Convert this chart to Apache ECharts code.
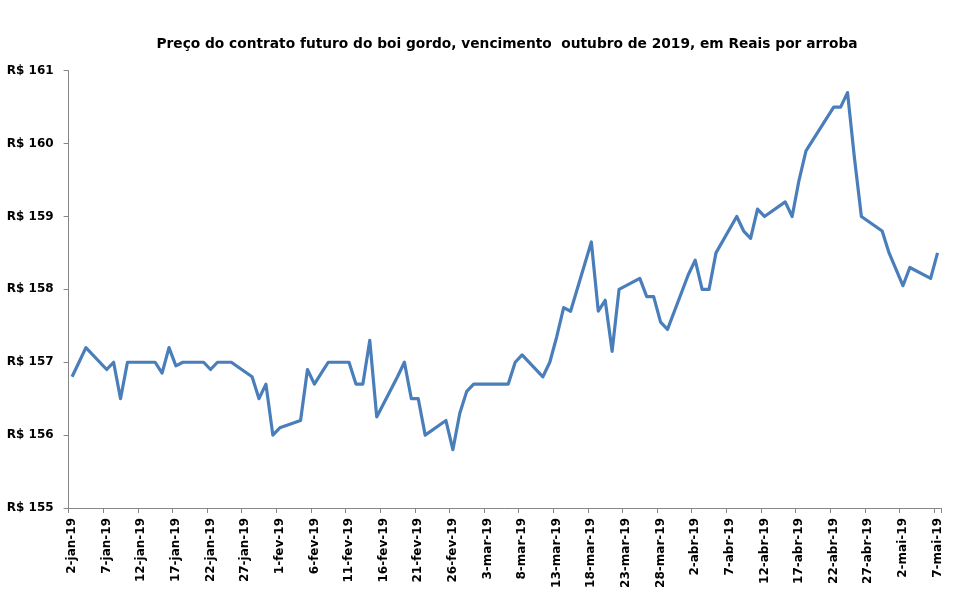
<!DOCTYPE html>
<html>
<head>
<meta charset="utf-8">
<script src="https://cdn.jsdelivr.net/npm/echarts@6/dist/echarts.min.js"></script>
<style>
html,body{margin:0;padding:0;background:#fff;}
#chart{width:961px;height:594px;}
</style>
</head>
<body>
<div id="chart"></div>
<script>
// Axis scaffolding: calendar days from 2-jan-19 to 7-mai-19
var monthAbbr = ['jan','fev','mar','abr','mai'];
var startDate = [2019, 0, 2];
var endDate = [2019, 4, 7];

// Trading days shown in the chart and their prices (R$ per arroba)
var tradeDates = [
  '2-jan-19','3-jan-19','4-jan-19','7-jan-19','8-jan-19','9-jan-19','10-jan-19','11-jan-19',
  '14-jan-19','15-jan-19','16-jan-19','17-jan-19','18-jan-19','21-jan-19','22-jan-19','23-jan-19',
  '24-jan-19','25-jan-19','28-jan-19','29-jan-19','30-jan-19','31-jan-19','1-fev-19',
  '4-fev-19','5-fev-19','6-fev-19','7-fev-19','8-fev-19','11-fev-19','12-fev-19','13-fev-19',
  '14-fev-19','15-fev-19','18-fev-19','19-fev-19','20-fev-19','21-fev-19','22-fev-19',
  '25-fev-19','26-fev-19','27-fev-19','28-fev-19','1-mar-19','6-mar-19','7-mar-19','8-mar-19',
  '11-mar-19','12-mar-19','13-mar-19','14-mar-19','15-mar-19','18-mar-19','19-mar-19','20-mar-19',
  '21-mar-19','22-mar-19','25-mar-19','26-mar-19','27-mar-19','28-mar-19','29-mar-19',
  '1-abr-19','2-abr-19','3-abr-19','4-abr-19','5-abr-19','8-abr-19','9-abr-19','10-abr-19',
  '11-abr-19','12-abr-19','15-abr-19','16-abr-19','17-abr-19','18-abr-19','22-abr-19',
  '23-abr-19','24-abr-19','25-abr-19','26-abr-19','29-abr-19','30-abr-19','2-mai-19',
  '3-mai-19','6-mai-19','7-mai-19'
];
var prices = [
  156.8,157.0,157.2,156.9,157.0,156.5,157.0,157.0,
  157.0,156.85,157.2,156.95,157.0,157.0,156.9,157.0,
  157.0,157.0,156.8,156.5,156.7,156.0,156.1,
  156.2,156.9,156.7,156.85,157.0,157.0,156.7,156.7,
  157.3,156.25,156.8,157.0,156.5,156.5,156.0,
  156.2,155.8,156.3,156.6,156.7,156.7,157.0,157.1,
  156.8,157.0,157.35,157.75,157.7,158.65,157.7,157.85,
  157.15,158.0,158.15,157.9,157.9,157.55,157.45,
  158.2,158.4,158.0,158.0,158.5,159.0,158.8,158.7,
  159.1,159.0,159.2,159.0,159.5,159.9,160.5,
  160.5,160.7,159.8,159.0,158.8,158.5,158.05,
  158.3,158.15,158.5
];
var yMin = 155, yMax = 161, yStep = 1;
var title = 'Preço do contrato futuro do boi gordo, vencimento  outubro de 2019, em Reais por arroba';

// build calendar categories
var categories = [];
var d = new Date(startDate[0], startDate[1], startDate[2]);
var end = new Date(endDate[0], endDate[1], endDate[2]);
while (d <= end) {
  categories.push(d.getDate() + '-' + monthAbbr[d.getMonth()] + '-' + String(d.getFullYear()).slice(2));
  d.setDate(d.getDate() + 1);
}
var seriesData = tradeDates.map(function (t, i) { return [t, prices[i]]; });

var font = 'DejaVu Sans';
var chart = echarts.init(document.getElementById('chart'), null, {renderer: 'canvas'});
chart.setOption({
  animation: false,
  backgroundColor: '#ffffff',
  title: {
    text: title,
    left: 502,
    top: 32,
    textAlign: 'center',
    textStyle: {fontFamily: font, fontWeight: 'bold', fontSize: 13.75, color: '#000'}
  },
  grid: {left: 68.6, right: 20, top: 70.7, bottom: 86, containLabel: false},
  xAxis: {
    type: 'category',
    data: categories,
    boundaryGap: true,
    axisLine: {show: true, lineStyle: {color: '#868686', width: 1}},
    axisTick: {show: true, interval: 4, length: 5, lineStyle: {color: '#868686'}},
    axisLabel: {
      interval: 4, rotate: 90, margin: 10,
      fontFamily: font, fontWeight: 'bold', fontSize: 12, color: '#000'
    },
    splitLine: {show: false}
  },
  yAxis: {
    type: 'value',
    min: yMin, max: yMax, interval: yStep,
    axisLine: {show: true, lineStyle: {color: '#868686', width: 1}},
    axisTick: {show: true, length: 5, lineStyle: {color: '#868686'}},
    axisLabel: {
      margin: 15, formatter: function (v) { return 'R$ ' + v; },
      fontFamily: font, fontWeight: 'bold', fontSize: 12, color: '#000'
    },
    splitLine: {show: false}
  },
  series: [{
    type: 'line',
    data: seriesData,
    showSymbol: false,
    symbol: 'none',
    lineStyle: {color: '#4A7EBB', width: 3.2, join: 'round'},
    itemStyle: {color: '#4A7EBB'}
  }]
});
</script>
</body>
</html>
